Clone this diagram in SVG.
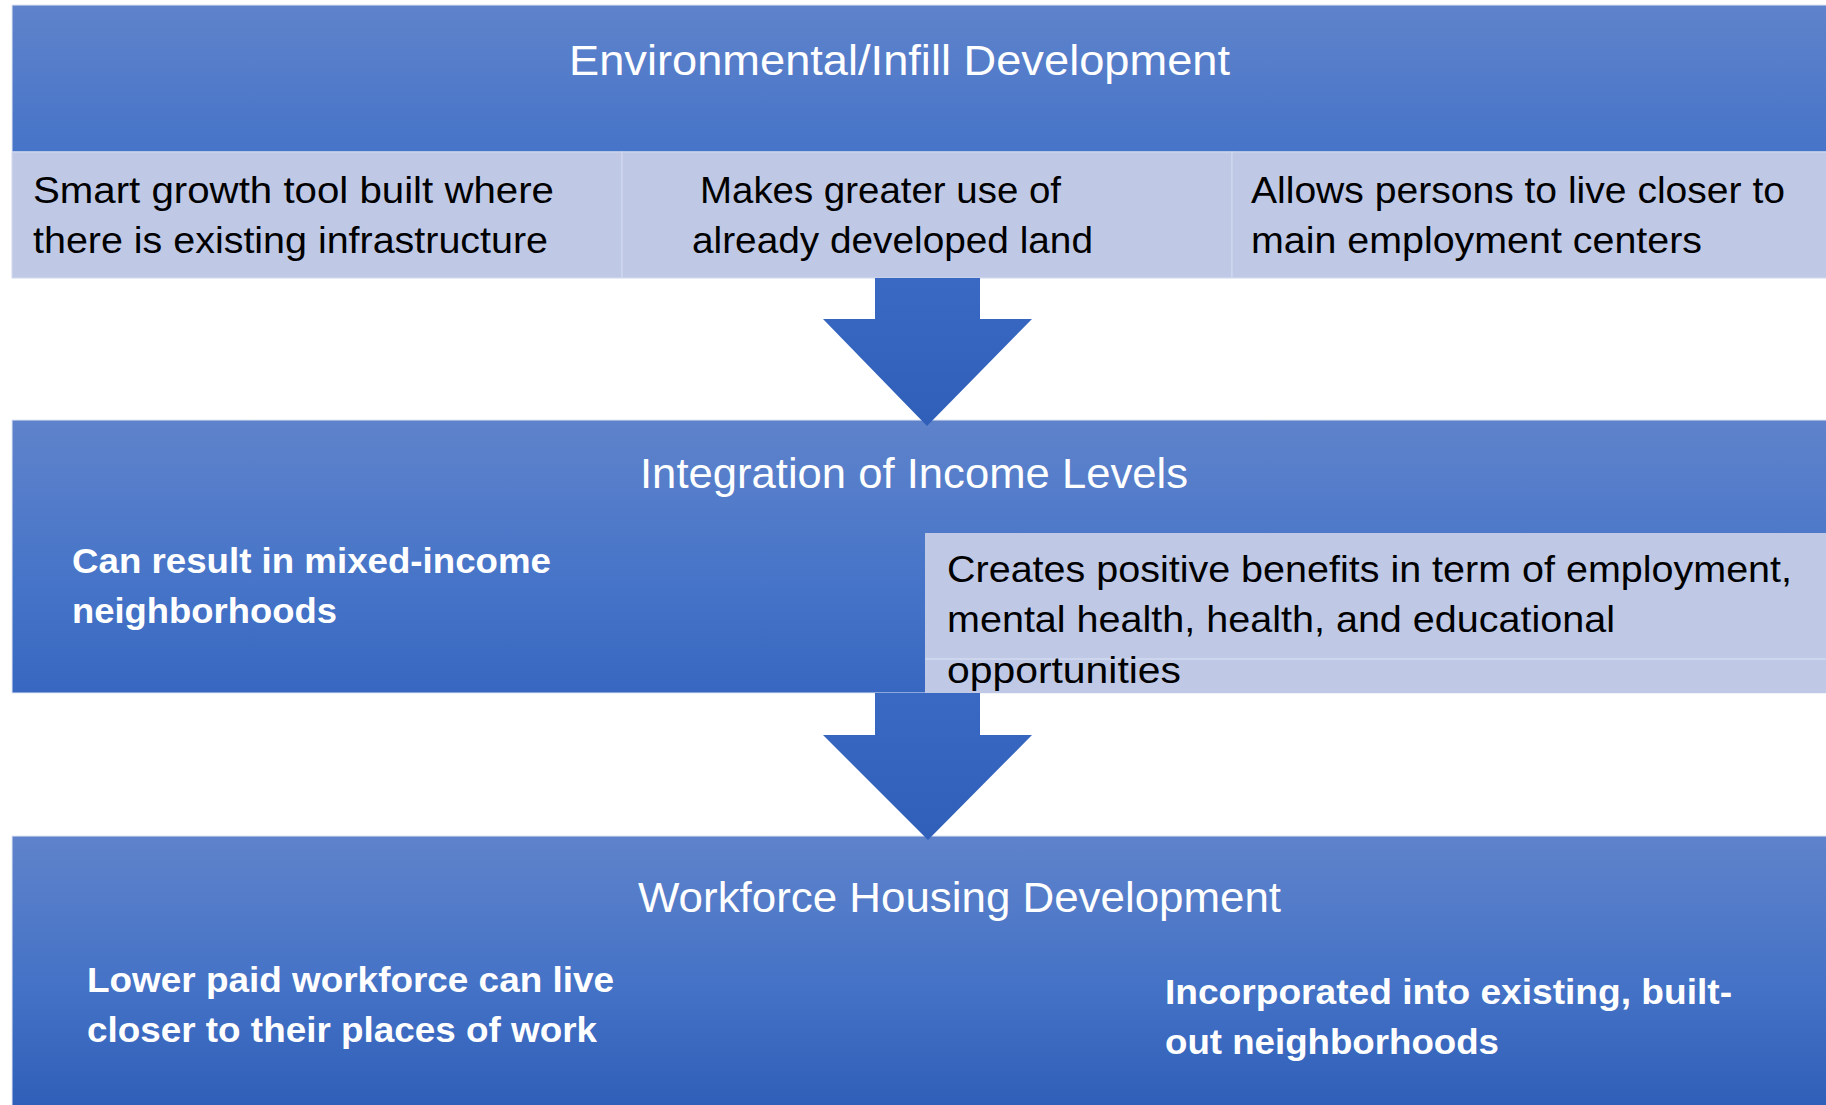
<svg xmlns="http://www.w3.org/2000/svg" width="1826" height="1105" viewBox="0 0 1826 1105">
<defs>
<linearGradient id="g1" x1="0" y1="0" x2="0" y2="1"><stop offset="0" stop-color="#5F83CB"/><stop offset="1" stop-color="#4674C8"/></linearGradient>
<linearGradient id="g2" x1="0" y1="0" x2="0" y2="1"><stop offset="0" stop-color="#5F83CB"/><stop offset="0.6" stop-color="#4674C8"/><stop offset="1" stop-color="#3767C0"/></linearGradient>
<linearGradient id="g3" x1="0" y1="0" x2="0" y2="1"><stop offset="0" stop-color="#5F83CB"/><stop offset="0.55" stop-color="#4472C6"/><stop offset="1" stop-color="#2F5EB8"/></linearGradient>
<linearGradient id="ga" x1="0" y1="0" x2="0" y2="1"><stop offset="0" stop-color="#3969C3"/><stop offset="1" stop-color="#2F5FB9"/></linearGradient>
<style>
.band{stroke:#E3E8F5;stroke-width:1}
.cell{fill:#BFC9E6;stroke:#D3DAEF;stroke-width:1}
.title{font-family:"Liberation Sans",Arial,sans-serif;font-size:42px;fill:#FFFFFF}
.body{font-family:"Liberation Sans",Arial,sans-serif;font-size:36px;fill:#000000}
.bold{font-family:"Liberation Sans",Arial,sans-serif;font-size:35px;font-weight:bold;fill:#FFFFFF}
</style>
</defs>
<rect width="1826" height="1105" fill="#FFFFFF"/>
<g id="node-environmental">
<rect class="band" x="12" y="5" width="1820" height="147" fill="url(#g1)"/>
<text class="title" x="569" y="75" textLength="661" lengthAdjust="spacingAndGlyphs">Environmental/Infill Development</text>
</g>
<g id="node-smart-growth">
<rect class="cell" x="12" y="152" width="610" height="126"/>
<text class="body" x="33" y="203" textLength="521" lengthAdjust="spacingAndGlyphs">Smart growth tool built where</text>
<text class="body" x="33" y="253" textLength="515" lengthAdjust="spacingAndGlyphs">there is existing infrastructure</text>
</g>
<g id="node-greater-use">
<rect class="cell" x="622" y="152" width="610" height="126"/>
<text class="body" x="700" y="203" textLength="361" lengthAdjust="spacingAndGlyphs">Makes greater use of</text>
<text class="body" x="692" y="253" textLength="401" lengthAdjust="spacingAndGlyphs">already developed land</text>
</g>
<g id="node-live-closer">
<rect class="cell" x="1232" y="152" width="600" height="126"/>
<text class="body" x="1251" y="203" textLength="534" lengthAdjust="spacingAndGlyphs">Allows persons to live closer to</text>
<text class="body" x="1251" y="253" textLength="451" lengthAdjust="spacingAndGlyphs">main employment centers</text>
</g>
<g id="node-integration">
<rect class="band" x="12" y="420" width="1820" height="273" fill="url(#g2)"/>
<text class="title" x="640" y="488" textLength="548" lengthAdjust="spacingAndGlyphs">Integration of Income Levels</text>
<text class="bold" x="72" y="573" textLength="479" lengthAdjust="spacingAndGlyphs">Can result in mixed-income</text>
<text class="bold" x="72" y="623" textLength="265" lengthAdjust="spacingAndGlyphs">neighborhoods</text>
</g>
<g id="node-positive-benefits">
<rect x="925" y="533" width="901" height="160" fill="#BFC9E6"/>
<line x1="925" y1="659" x2="1826" y2="659" stroke="#D3DAEF" stroke-width="1.5"/>
<text class="body" x="947" y="582" textLength="845" lengthAdjust="spacingAndGlyphs">Creates positive benefits in term of employment,</text>
<text class="body" x="947" y="632" textLength="668" lengthAdjust="spacingAndGlyphs">mental health, health, and educational</text>
<text class="body" x="947" y="683" textLength="234" lengthAdjust="spacingAndGlyphs">opportunities</text>
</g>
<g id="node-workforce">
<rect class="band" x="12" y="836" width="1820" height="275" fill="url(#g3)"/>
<text class="title" x="638" y="912" textLength="643" lengthAdjust="spacingAndGlyphs">Workforce Housing Development</text>
<text class="bold" x="87" y="992" textLength="527" lengthAdjust="spacingAndGlyphs">Lower paid workforce can live</text>
<text class="bold" x="87" y="1042" textLength="510" lengthAdjust="spacingAndGlyphs">closer to their places of work</text>
<text class="bold" x="1165" y="1004" textLength="567" lengthAdjust="spacingAndGlyphs">Incorporated into existing, built-</text>
<text class="bold" x="1165" y="1054" textLength="334" lengthAdjust="spacingAndGlyphs">out neighborhoods</text>
</g>
<g id="connectors">
<polygon points="875,278 980,278 980,319 1032,319 927,426 823,319 875,319" fill="url(#ga)"/>
<polygon points="875,693 980,693 980,735 1032,735 928,840 823,735 875,735" fill="url(#ga)"/>
</g>
</svg>
